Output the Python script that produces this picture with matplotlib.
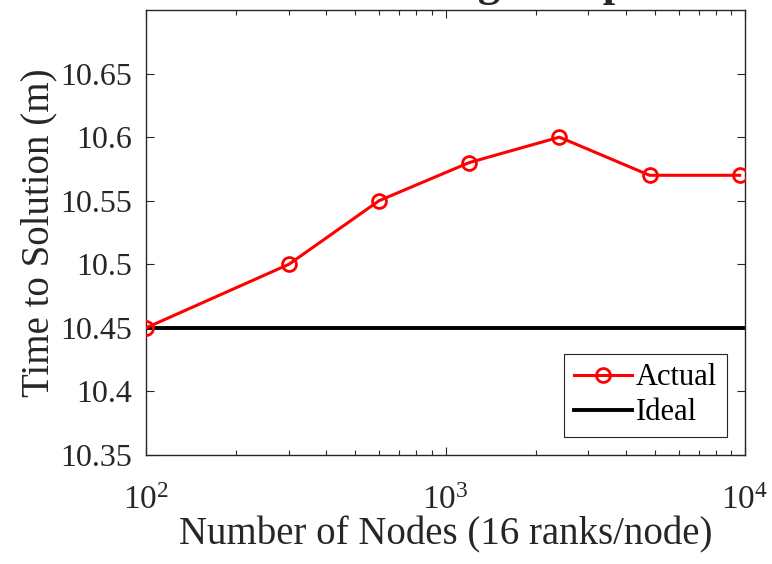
import numpy as np
import matplotlib
matplotlib.use('Agg')
import matplotlib.pyplot as plt
from matplotlib.ticker import LogLocator

plt.rcParams['font.family'] = 'Liberation Serif'
plt.rcParams['mathtext.fontset'] = 'custom'
plt.rcParams['mathtext.rm'] = 'Liberation Serif'
plt.rcParams['mathtext.it'] = 'Liberation Serif:italic'

nodes = [100, 300, 600, 1200, 2400, 4800, 9600]
actual = [10.45, 10.50, 10.55, 10.58, 10.60, 10.57, 10.57]
ideal_x = [100, 10000]
ideal_y = [10.45, 10.45]
yticks = [10.35, 10.4, 10.45, 10.5, 10.55, 10.6, 10.65]
ytick_labels = ['10.35', '10.4', '10.45', '10.5', '10.55', '10.6', '10.65']

fig = plt.figure(figsize=(7.72, 5.64), dpi=100)
ax = fig.add_axes([146/772, 1 - 455/564, (745-146)/772, (455-10)/564])

ax.plot(nodes, actual, color='#ff0000', lw=2.2, marker='o', ms=10,
        mfc='none', mec='#ff0000', mew=2, label='Actual', zorder=3)
ax.plot(ideal_x, ideal_y, color='black', lw=2.8, label='Ideal', zorder=2)

ax.set_xscale('log')
ax.set_xlim(100, 10000)
ax.set_ylim(10.35, 10.7)
ax.set_yticks(yticks)
ax.set_yticklabels(ytick_labels)
ax.xaxis.set_major_locator(LogLocator(base=10))
ax.xaxis.set_minor_locator(LogLocator(base=10, subs=np.arange(2, 10)))

for s in ax.spines.values():
    s.set_color('#262626')
    s.set_linewidth(1.0)
ax.tick_params(which='both', direction='in', top=True, right=True,
               color='#262626', labelsize=23, labelcolor='#262626')
ax.tick_params(axis='x', labelsize=24)
ax.tick_params(axis='y', which='major', length=6, width=0.8, pad=10)
ax.tick_params(axis='x', which='major', length=6, width=0.8, pad=22)
ax.tick_params(which='minor', length=3.5, width=0.8)

ax.set_xlabel('Number of Nodes (16 ranks/node)', fontsize=28, color='#262626', labelpad=0)
ax.set_ylabel('Time to Solution (m)', fontsize=28, color='#262626', labelpad=2)

leg = ax.legend(loc='lower right', fontsize=22, frameon=True, fancybox=False,
                edgecolor='#262626', framealpha=1, handlelength=1.9,
                handletextpad=0.15, borderpad=0.3, labelspacing=0.2,
                borderaxespad=0.6)
leg.get_frame().set_linewidth(0.8)

# title mostly cut off at the top of the image
fig.text(0.64, 1 + 4/564, 'Weak Scaling Comparison', ha='center', va='baseline',
         fontsize=32, fontweight='bold', color='#262626')

fig.savefig('out.png', dpi=100)
